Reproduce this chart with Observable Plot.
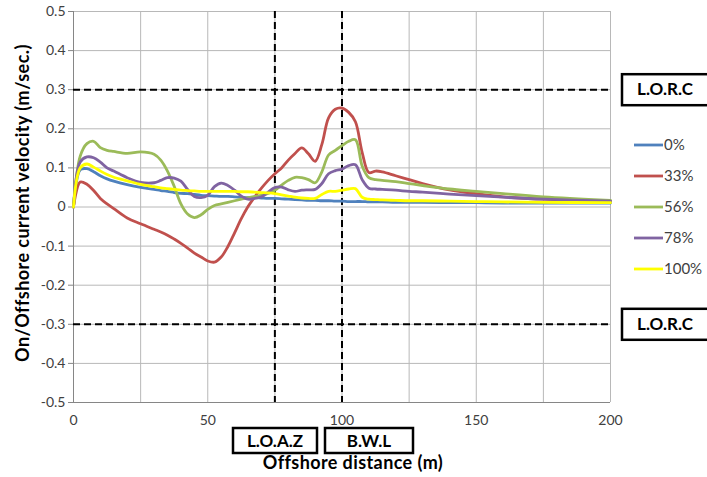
<!DOCTYPE html>
<html><head><meta charset="utf-8">
<script src="https://cdn.jsdelivr.net/npm/d3@7"></script>
<script src="https://cdn.jsdelivr.net/npm/@observablehq/plot@0.6"></script>
<style>body{margin:0;background:#fff} svg{display:block}</style>
</head><body><div id="chart"></div>
<script>
// Offshore distance (m)
const distance = [0, 2.5, 5, 7.5, 10, 12.5, 15, 20, 25, 30, 32.5, 35, 37.5, 40, 42.5, 45, 47.5, 50, 52.5, 55, 57.5, 60, 62.5, 65, 67.5, 70, 72.5, 75, 77.5, 80, 82.5, 85, 87.5, 90, 92.5, 95, 97.5, 100, 102.5, 105, 107.5, 110, 112.5, 115, 120, 125, 130, 140, 150, 160, 175, 200];
// On/Offshore current velocity (m/sec.)
const vel0 = [0, 0.095, 0.098, 0.09, 0.08, 0.072, 0.066, 0.057, 0.05, 0.045, 0.042, 0.04, 0.037, 0.035, 0.034, 0.032, 0.03, 0.029, 0.028, 0.027, 0.027, 0.026, 0.025, 0.024, 0.024, 0.023, 0.022, 0.022, 0.021, 0.02, 0.019, 0.018, 0.017, 0.017, 0.016, 0.016, 0.015, 0.015, 0.014, 0.014, 0.014, 0.013, 0.013, 0.013, 0.012, 0.012, 0.012, 0.011, 0.011, 0.01, 0.01, 0.01];
const vel33 = [0, 0.064, 0.058, 0.042, 0.022, 0.008, -0.004, -0.028, -0.043, -0.057, -0.064, -0.072, -0.082, -0.093, -0.105, -0.118, -0.128, -0.138, -0.141, -0.128, -0.101, -0.066, -0.03, 0.001, 0.026, 0.048, 0.068, 0.085, 0.1, 0.12, 0.137, 0.151, 0.136, 0.117, 0.16, 0.228, 0.25, 0.253, 0.242, 0.218, 0.14, 0.088, 0.092, 0.09, 0.08, 0.07, 0.06, 0.044, 0.034, 0.026, 0.02, 0.015];
const vel56 = [0, 0.13, 0.162, 0.168, 0.152, 0.145, 0.142, 0.137, 0.141, 0.135, 0.12, 0.092, 0.053, 0.008, -0.018, -0.027, -0.02, -0.006, 0.004, 0.008, 0.012, 0.016, 0.02, 0.024, 0.027, 0.03, 0.035, 0.043, 0.056, 0.068, 0.076, 0.075, 0.07, 0.062, 0.09, 0.133, 0.145, 0.157, 0.168, 0.172, 0.105, 0.075, 0.07, 0.068, 0.065, 0.06, 0.055, 0.046, 0.04, 0.034, 0.026, 0.017];
const vel78 = [0, 0.115, 0.128, 0.126, 0.115, 0.1, 0.092, 0.075, 0.063, 0.062, 0.068, 0.075, 0.074, 0.066, 0.045, 0.027, 0.024, 0.03, 0.052, 0.061, 0.055, 0.043, 0.028, 0.02, 0.022, 0.026, 0.038, 0.05, 0.051, 0.044, 0.04, 0.043, 0.044, 0.045, 0.06, 0.085, 0.093, 0.097, 0.106, 0.108, 0.07, 0.048, 0.046, 0.045, 0.043, 0.04, 0.038, 0.033, 0.029, 0.025, 0.02, 0.015];
const vel100 = [0, 0.1, 0.11, 0.102, 0.092, 0.083, 0.076, 0.067, 0.058, 0.052, 0.049, 0.047, 0.045, 0.043, 0.042, 0.041, 0.04, 0.04, 0.04, 0.04, 0.04, 0.04, 0.039, 0.039, 0.038, 0.037, 0.036, 0.034, 0.031, 0.028, 0.025, 0.023, 0.022, 0.022, 0.032, 0.04, 0.04, 0.043, 0.046, 0.047, 0.025, 0.02, 0.019, 0.018, 0.017, 0.016, 0.016, 0.015, 0.014, 0.013, 0.012, 0.011];

const seriesNames = ["0%", "33%", "56%", "78%", "100%"];
const seriesColors = ["#4F81BD", "#C0504D", "#9BBB59", "#8064A2", "#FFFF00"];
const xTicks = [0, 50, 100, 150, 200];
const xGrid = [0, 25, 50, 75, 100, 125, 150, 175, 200];
const yTicks = [-0.5, -0.4, -0.3, -0.2, -0.1, 0, 0.1, 0.2, 0.3, 0.4, 0.5];
const lorcLevels = [0.3, -0.3];
const zoneLines = [75, 100];
const lorcLabel = "L.O.R.C";
const zoneLabels = ["L.O.A.Z", "B.W.L"];
const xTitle = "Offshore distance (m)";
const yTitle = "On/Offshore current velocity (m/sec.)";

const values = [vel0, vel33, vel56, vel78, vel100];
const rows = seriesNames.flatMap((name, i) => distance.map((d, j) => ({series: name, x: d, v: values[i][j]})));

const chart = Plot.plot({
  width: 707, height: 477,
  marginLeft: 73, marginRight: 97, marginTop: 11, marginBottom: 75,
  style: {fontFamily: "Lato, 'Open Sans', sans-serif", fontSize: "14px", color: "#404040", background: "#fff"},
  x: {domain: [0, 200]},
  y: {domain: [-0.5, 0.5]},
  color: {domain: seriesNames, range: seriesColors},
  marks: [
    Plot.gridX(xGrid, {stroke: "#b8b8b8", strokeOpacity: 1}),
    Plot.gridY(yTicks, {stroke: "#b8b8b8", strokeOpacity: 1}),
    Plot.axisY(yTicks, {tickSize: 5, tickPadding: 3, stroke: "#868686", tickFormat: d => String(+d.toFixed(1)), label: null}),
    Plot.axisX(xTicks, {tickSize: 0, tickPadding: 13, tickFormat: d => String(d), label: null}),
    Plot.ruleX([0], {stroke: "#868686"}),
    Plot.ruleY([-0.5], {stroke: "#868686"}),
    Plot.ruleY(lorcLevels, {stroke: "#000", strokeWidth: 2, strokeDasharray: "7,4"}),
    Plot.ruleX(zoneLines, {stroke: "#000", strokeWidth: 2, strokeDasharray: "7,4"}),
    Plot.line(rows, {x: "x", y: "v", z: "series", stroke: "series", strokeWidth: 2.8, curve: "catmull-rom"})
  ]
});
document.getElementById("chart").appendChild(chart);

const ys = chart.scale("y");
const svg = d3.select(chart);
const g = svg.append("g").attr("font-family", "Lato, 'Open Sans', sans-serif");

// L.O.R.C boxes
lorcLevels.forEach(lv => {
  const cy = ys.apply(lv);
  g.append("rect").attr("x", 622).attr("y", cy - 15).attr("width", 100).attr("height", 31)
    .attr("fill", "#fff").attr("stroke", "#000").attr("stroke-width", 2.5);
  g.append("text").attr("x", 665).attr("y", cy + 6).attr("text-anchor", "middle")
    .attr("font-weight", "bold").attr("font-size", 17).attr("fill", "#000").text(lorcLabel);
});

// Legend
seriesNames.forEach((name, i) => {
  const y = 145 + i * 31;
  g.append("line").attr("x1", 634).attr("x2", 663).attr("y1", y).attr("y2", y)
    .attr("stroke", seriesColors[i]).attr("stroke-width", 2.8);
  g.append("text").attr("x", 664).attr("y", y + 5).attr("text-anchor", "start")
    .attr("font-size", 15).attr("fill", "#404040").text(name);
});

// Zone boxes
const zoneBoxes = [[233, 84], [325, 88]];
zoneLabels.forEach((lab, i) => {
  const [bx, bw] = zoneBoxes[i];
  g.append("rect").attr("x", bx).attr("y", 428).attr("width", bw).attr("height", 25)
    .attr("fill", "#fff").attr("stroke", "#000").attr("stroke-width", 2.5);
  g.append("text").attr("x", bx + bw / 2).attr("y", 447).attr("text-anchor", "middle")
    .attr("font-weight", "bold").attr("font-size", 17).attr("fill", "#000").text(lab);
});

// Axis titles
g.append("text").attr("x", 353).attr("y", 469).attr("text-anchor", "middle")
  .attr("font-weight", "bold").attr("font-size", 18).attr("letter-spacing", "0.4px")
  .attr("fill", "#000").text(xTitle);
g.append("text").attr("transform", "translate(29,203) rotate(-90)").attr("text-anchor", "middle")
  .attr("font-weight", "bold").attr("font-size", 18).attr("letter-spacing", "0.45px")
  .attr("fill", "#000").text(yTitle);
</script>
</body></html>
